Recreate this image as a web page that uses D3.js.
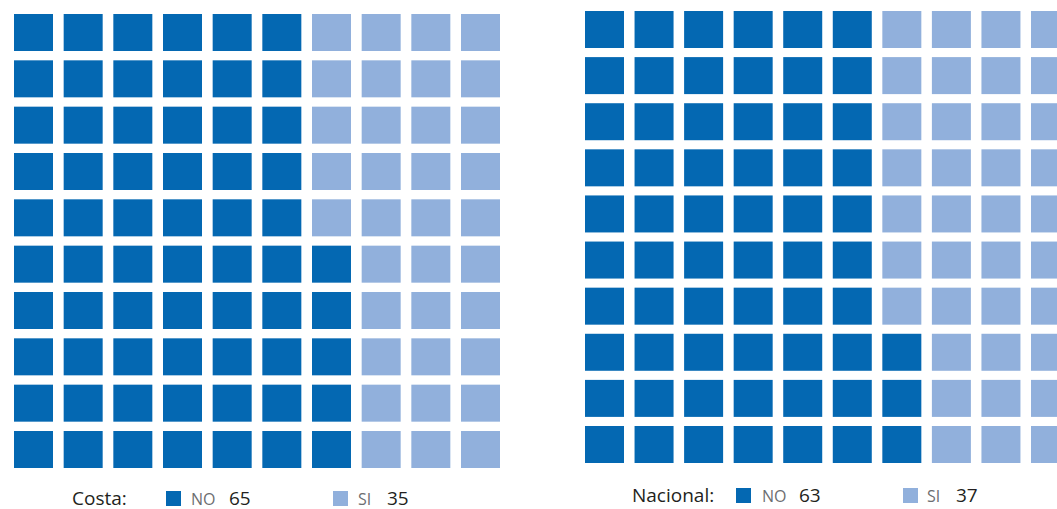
<!DOCTYPE html>
<html>
<head>
<meta charset="utf-8">
<script src="https://cdn.jsdelivr.net/npm/d3@7"></script>
<style>
  html, body { margin: 0; padding: 0; background: #fff; }
  svg { display: block; }
  text { font-family: "Open Sans", "Noto Sans", sans-serif; }
</style>
</head>
<body>
<svg id="chart" width="1057" height="509"></svg>
<script>
// Waffle data: share of responses per region (out of 100 cells)
const regions = ["Costa", "Nacional"];
const answers = ["NO", "SI"];
const noValues = [65, 63];
const siValues = [35, 37];
const colors = ["#0468b2", "#91b0dc"];

const gridSize = 10;
const svg = d3.select("#chart");

// Layout for each panel: grid origin, last cell origin, legend placement
const panels = [
  { x0: 14, x1: 461, y0: 14, y1: 431, legendY: 505, labelX: 72, sqX: [166, 333], ansX: [191, 358], valX: [229, 387] },
  { x0: 585, x1: 1031, y0: 11, y1: 426, legendY: 502, labelX: 632, sqX: [736, 903], ansX: [762, 927], valX: [799, 956] }
];
const cellW = 39, cellH = 37;

regions.forEach((region, i) => {
  const p = panels[i];
  const values = [noValues[i], siValues[i]];
  const col = d3.scaleLinear().domain([0, gridSize - 1]).range([p.x0, p.x1]);
  const row = d3.scaleLinear().domain([0, gridSize - 1]).range([p.y0, p.y1]);
  const color = d3.scaleOrdinal().domain(answers).range(colors);

  // Cells are filled column by column, from the bottom row upwards
  const cells = [];
  answers.forEach((a, k) => {
    for (let n = 0; n < values[k]; n++) cells.push(a);
  });
  const cellData = cells.map((a, idx) => ({
    answer: a,
    c: Math.floor(idx / gridSize),
    r: gridSize - 1 - (idx % gridSize)
  }));

  const g = svg.append("g").attr("class", "waffle");
  g.selectAll("rect")
    .data(cellData)
    .join("rect")
    .attr("x", d => col(d.c))
    .attr("y", d => row(d.r))
    .attr("width", cellW)
    .attr("height", cellH)
    .attr("fill", d => color(d.answer));

  // Legend
  const lg = svg.append("g").attr("class", "legend");
  lg.append("text")
    .attr("x", p.labelX)
    .attr("y", p.legendY)
    .attr("font-size", 19)
    .attr("fill", "#231f20")
    .text(region + ":");
  answers.forEach((a, k) => {
    lg.append("rect")
      .attr("x", p.sqX[k])
      .attr("y", p.legendY - 14)
      .attr("width", 15)
      .attr("height", 15)
      .attr("fill", color(a));
    lg.append("text")
      .attr("x", p.ansX[k])
      .attr("y", p.legendY)
      .attr("font-size", 16)
      .attr("fill", "#6d6e71")
      .text(a);
    lg.append("text")
      .attr("x", p.valX[k])
      .attr("y", p.legendY)
      .attr("font-size", 19)
      .attr("fill", "#231f20")
      .text(values[k]);
  });
});
</script>
</body>
</html>
